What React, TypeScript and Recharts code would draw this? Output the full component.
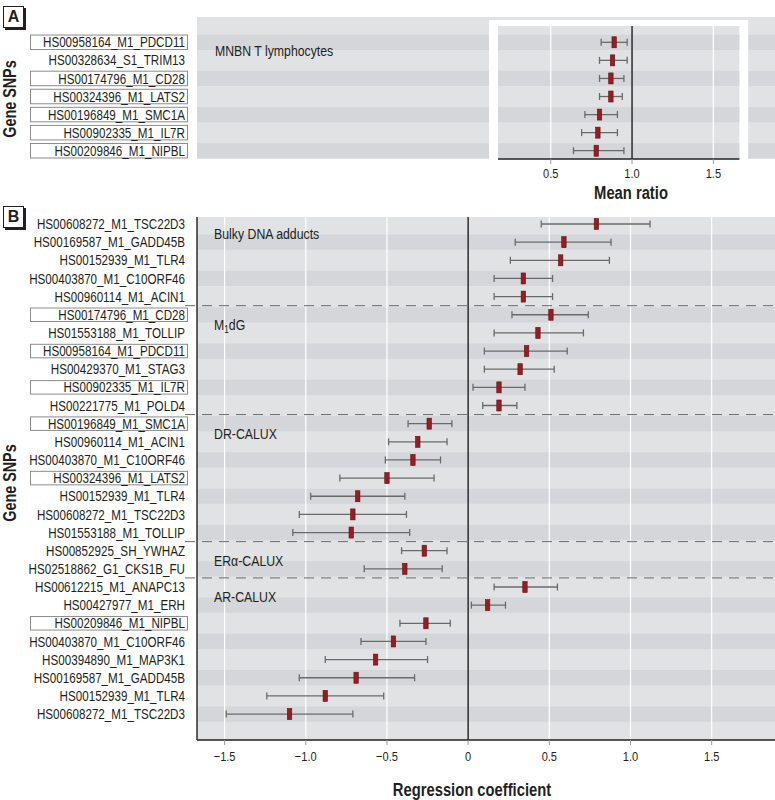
import React from 'react';
import {
  ScatterChart,
  Scatter,
  XAxis,
  YAxis,
  ErrorBar,
  ReferenceArea,
  ReferenceLine,
  ReferenceDot,
} from 'recharts';

const FONT = "'Liberation Sans', Arial, 'DejaVu Sans', sans-serif";
const SQ = 0.82; // horizontal condensing to mimic a narrow face
const INK = '#231f20';
const BG_LIGHT = '#e1e2e4';
const BG_DARK = '#d4d6d9';
const RED = '#981c24';

// ---------- Panel A data (mean ratio) ----------
const aLabels = [
  'HS00958164_M1_PDCD11',
  'HS00328634_S1_TRIM13',
  'HS00174796_M1_CD28',
  'HS00324396_M1_LATS2',
  'HS00196849_M1_SMC1A',
  'HS00902335_M1_IL7R',
  'HS00209846_M1_NIPBL',
];
const aMean = [0.89, 0.88, 0.87, 0.87, 0.80, 0.79, 0.78];
const aLow = [0.81, 0.80, 0.80, 0.80, 0.71, 0.69, 0.64];
const aHigh = [0.97, 0.97, 0.95, 0.94, 0.91, 0.91, 0.95];
const aBoxed = [1, 3, 4, 5, 6, 7];
const aTicks = [0.5, 1.0, 1.5];
const aGroup = 'MNBN T lymphocytes';

// ---------- Panel B data (regression coefficient) ----------
const bLabels = [
  'HS00608272_M1_TSC22D3',
  'HS00169587_M1_GADD45B',
  'HS00152939_M1_TLR4',
  'HS00403870_M1_C10ORF46',
  'HS00960114_M1_ACIN1',
  'HS00174796_M1_CD28',
  'HS01553188_M1_TOLLIP',
  'HS00958164_M1_PDCD11',
  'HS00429370_M1_STAG3',
  'HS00902335_M1_IL7R',
  'HS00221775_M1_POLD4',
  'HS00196849_M1_SMC1A',
  'HS00960114_M1_ACIN1',
  'HS00403870_M1_C10ORF46',
  'HS00324396_M1_LATS2',
  'HS00152939_M1_TLR4',
  'HS00608272_M1_TSC22D3',
  'HS01553188_M1_TOLLIP',
  'HS00852925_SH_YWHAZ',
  'HS02518862_G1_CKS1B_FU',
  'HS00612215_M1_ANAPC13',
  'HS00427977_M1_ERH',
  'HS00209846_M1_NIPBL',
  'HS00403870_M1_C10ORF46',
  'HS00394890_M1_MAP3K1',
  'HS00169587_M1_GADD45B',
  'HS00152939_M1_TLR4',
  'HS00608272_M1_TSC22D3',
];
const bMean = [
  0.79, 0.59, 0.57, 0.34, 0.34,
  0.51, 0.43, 0.36, 0.32, 0.19, 0.19,
  -0.24, -0.31, -0.34, -0.50, -0.68, -0.71, -0.72,
  -0.27, -0.39,
  0.35, 0.12, -0.26, -0.46, -0.57, -0.69, -0.88, -1.10,
];
const bLow = [
  0.45, 0.29, 0.26, 0.16, 0.16,
  0.27, 0.16, 0.10, 0.10, 0.03, 0.09,
  -0.37, -0.49, -0.51, -0.79, -0.97, -1.04, -1.08,
  -0.41, -0.64,
  0.16, 0.02, -0.42, -0.66, -0.88, -1.04, -1.24, -1.49,
];
const bHigh = [
  1.12, 0.88, 0.87, 0.52, 0.52,
  0.74, 0.71, 0.61, 0.53, 0.35, 0.30,
  -0.10, -0.13, -0.17, -0.21, -0.39, -0.38, -0.36,
  -0.13, -0.16,
  0.55, 0.23, -0.11, -0.26, -0.25, -0.33, -0.52, -0.71,
];
const bBoxed = [6, 8, 10, 12, 15, 23];
const bTicks = [-1.5, -1.0, -0.5, 0, 0.5, 1.0, 1.5];
const bGroups = ['Bulky DNA adducts', 'M1dG', 'DR-CALUX', 'ERα-CALUX', 'AR-CALUX'];
const bGroupStarts = [1, 6, 12, 19, 21];

// ---------- derived tables ----------
const aData = aMean.map((m, i) => ({ x: m, y: i + 1, err: [m - aLow[i], aHigh[i] - m] }));
const bData = bMean.map((m, i) => ({ x: m, y: i + 1, err: [m - bLow[i], bHigh[i] - m] }));
const aRows = aLabels.map((_, i) => i + 1);
const bRows = bLabels.map((_, i) => i + 1);

// layout constants (axis domains)
const A_X = [-1.675, 1.879];
const A_Y = [-0.4, 7.458];
const A_INNER_Y0 = 0.098;
const A_INNER_X = [0.176, 1.66];
const A_FRAME_X = [0.121, 1.714];
const A_FRAME_Y0 = -0.234;
const B_X = [-1.67, 1.89];
const B_Y = [0.614, 29.43];
const HALF_BAND = 0.42;

const fmtTick = (v: number) => (v === 0 ? '0' : (v < 0 ? '\u2212' : '') + Math.abs(v).toFixed(1));

// condensed svg text
function NText({ x, y, anchor = 'start', size = 14, weight = 'normal', children }: any) {
  return (
    <text
      transform={`translate(${x},${y}) scale(${SQ},1)`}
      x={0}
      y={0}
      dy="0.36em"
      textAnchor={anchor}
      fontSize={size}
      fontWeight={weight}
      fill={INK}
      fontFamily={FONT}
    >
      {children}
    </text>
  );
}

function makeRowTick(labels: string[], boxed: number[], boxH: number) {
  return (props: any) => {
    const { y, payload } = props;
    const i = payload.value as number;
    return (
      <g>
        {boxed.includes(i) && (
          <rect x={30.5} y={y - boxH / 2} width={157} height={boxH} fill="#fff" stroke="#8c8c8c" strokeWidth={1} />
        )}
        <NText x={185} y={y} anchor="end" size={14.2}>
          {labels[i - 1]}
        </NText>
      </g>
    );
  };
}

const XTick = (props: any) => {
  const { x, y, payload } = props;
  return (
    <NText x={x} y={y + 5} anchor="middle" size={13.5}>
      {fmtTick(payload.value)}
    </NText>
  );
};

const Marker = (p: any) => (
  <rect x={p.cx - 2.2} y={p.cy - 5.5} width={4.4} height={11} fill={RED} stroke="#5e1015" strokeWidth={0.6} />
);

function groupLabel(text: string) {
  return (props: any) => {
    const vb = props.viewBox || {};
    const x = (vb.x ?? 0) + (vb.width ?? 0);
    const y = (vb.y ?? 0) + (vb.height ?? 0) / 2;
    if (text === 'M1dG') {
      return (
        <NText x={x} y={y} size={15}>
          <tspan>M</tspan>
          <tspan dy={3} fontSize={10}>1</tspan>
          <tspan dy={-3}>dG</tspan>
        </NText>
      );
    }
    return (
      <NText x={x} y={y} size={15}>
        {text}
      </NText>
    );
  };
}

const dashedShape = (p: any) => (
  <line x1={p.x1 - 12} y1={p.y1} x2={p.x2} y2={p.y2} stroke="#6a6a6a" strokeWidth={1} strokeDasharray="10 7" />
);

const panelLetter = (letter: string, left: number, top: number) => (
  <div
    style={{
      position: 'absolute',
      left,
      top,
      width: 19,
      height: 20,
      border: `1px solid ${INK}`,
      boxShadow: `2px 2px 0 ${INK}`,
      background: '#fff',
      fontFamily: FONT,
      fontWeight: 'bold',
      fontSize: 16,
      color: INK,
      display: 'flex',
      alignItems: 'center',
      justifyContent: 'center',
      lineHeight: 1,
    }}
  >
    {letter}
  </div>
);

const rotatedTitle = (text: string, cx: number, cy: number) => (
  <div
    style={{
      position: 'absolute',
      left: cx,
      top: cy,
      transform: `translate(-50%, -50%) rotate(-90deg) scaleX(${SQ})`,
      fontFamily: FONT,
      fontWeight: 'bold',
      fontSize: 17.5,
      color: INK,
      whiteSpace: 'nowrap',
      lineHeight: 1,
    }}
  >
    {text}
  </div>
);

const hTitle = (text: string, cx: number, cy: number) => (
  <div
    style={{
      position: 'absolute',
      left: cx,
      top: cy,
      transform: `translate(-50%, -50%) scaleX(${SQ})`,
      fontFamily: FONT,
      fontWeight: 'bold',
      fontSize: 18,
      color: INK,
      whiteSpace: 'nowrap',
      lineHeight: 1,
    }}
  >
    {text}
  </div>
);

export default function App() {
  return (
    <div style={{ position: 'absolute', left: 0, top: 0, width: 775, height: 800, background: '#fff', fontFamily: FONT }}>
      {/* Panel A */}
      <div style={{ position: 'absolute', left: 0, top: 0 }}>
        <ScatterChart width={775} height={205} margin={{ top: 17, right: 0, left: 0, bottom: 0 }}>
          <XAxis
            type="number"
            dataKey="x"
            domain={A_X}
            allowDataOverflow
            ticks={aTicks}
            interval={0}
            axisLine={false}
            tickLine={{ stroke: '#9a9a9a' }}
            tickSize={5}
            tickMargin={4}
            height={46}
            tick={XTick}
          />
          <YAxis
            type="number"
            dataKey="y"
            reversed
            domain={A_Y}
            allowDataOverflow
            ticks={aRows}
            interval={0}
            width={197}
            axisLine={false}
            tickLine={false}
            tick={makeRowTick(aLabels, aBoxed, 14.5)}
          />
          {/* outer background + stripes */}
          <ReferenceArea x1={A_X[0]} x2={A_X[1]} y1={A_Y[0]} y2={A_Y[1]} fill={BG_LIGHT} fillOpacity={1} stroke="none" />
          {aRows.filter((r) => r % 2 === 1).map((r) => (
            <ReferenceArea key={'ao' + r} x1={A_X[0]} x2={A_X[1]} y1={r - HALF_BAND} y2={r + HALF_BAND} fill={BG_DARK} fillOpacity={1} stroke="none" />
          ))}
          {/* white frame and inner plot */}
          <ReferenceArea x1={A_FRAME_X[0]} x2={A_FRAME_X[1]} y1={A_FRAME_Y0} y2={A_Y[1]} fill="#fff" fillOpacity={1} stroke="none" />
          <ReferenceArea x1={A_INNER_X[0]} x2={A_INNER_X[1]} y1={A_INNER_Y0} y2={A_Y[1]} fill={BG_LIGHT} fillOpacity={1} stroke="none" />
          {aRows.filter((r) => r % 2 === 1).map((r) => (
            <ReferenceArea
              key={'ai' + r}
              x1={A_INNER_X[0]}
              x2={A_INNER_X[1]}
              y1={r - HALF_BAND}
              y2={Math.min(r + HALF_BAND, A_Y[1])}
              fill={BG_DARK}
              fillOpacity={1}
              stroke="none"
            />
          ))}
          {aTicks.filter((t) => t !== 1).map((t) => (
            <ReferenceLine key={'ag' + t} segment={[{ x: t, y: A_INNER_Y0 }, { x: t, y: A_Y[1] }]} stroke="#ffffff" strokeWidth={1.2} />
          ))}
          <ReferenceLine segment={[{ x: 1, y: A_INNER_Y0 }, { x: 1, y: A_Y[1] }]} stroke={INK} strokeWidth={1.4} />
          <ReferenceLine segment={[{ x: A_INNER_X[0], y: A_Y[1] }, { x: A_INNER_X[1], y: A_Y[1] }]} stroke={INK} strokeWidth={1.6} />
          <ReferenceDot x={-1.565} y={1.48} r={0} fill="none" stroke="none" label={groupLabel(aGroup)} />
          <Scatter data={aData} shape={Marker} isAnimationActive={false}>
            <ErrorBar dataKey="err" direction="x" width={3.5} stroke="#6a6a6a" strokeWidth={1.3} />
          </Scatter>
        </ScatterChart>
      </div>

      {/* Panel B */}
      <div style={{ position: 'absolute', left: 0, top: 200 }}>
        <ScatterChart width={775} height={600} margin={{ top: 17, right: 0, left: 0, bottom: 0 }}>
          <XAxis
            type="number"
            dataKey="x"
            domain={B_X}
            allowDataOverflow
            ticks={bTicks}
            interval={0}
            axisLine={{ stroke: INK, strokeWidth: 1.4 }}
            tickLine={{ stroke: '#9a9a9a' }}
            tickSize={5}
            tickMargin={6}
            height={60}
            tick={XTick}
          />
          <YAxis
            type="number"
            dataKey="y"
            reversed
            domain={B_Y}
            allowDataOverflow
            ticks={bRows}
            interval={0}
            width={197}
            axisLine={{ stroke: INK, strokeWidth: 1.4 }}
            tickLine={false}
            tick={makeRowTick(bLabels, bBoxed, 13.5)}
          />
          <ReferenceArea x1={B_X[0]} x2={B_X[1]} y1={B_Y[0]} y2={B_Y[1]} fill={BG_LIGHT} fillOpacity={1} stroke="none" />
          {bRows.filter((r) => r % 2 === 0).map((r) => (
            <ReferenceArea key={'bs' + r} x1={B_X[0]} x2={B_X[1]} y1={r - HALF_BAND} y2={r + HALF_BAND} fill={BG_DARK} fillOpacity={1} stroke="none" />
          ))}
          {bTicks.filter((t) => t !== 0).map((t) => (
            <ReferenceLine key={'bg' + t} x={t} stroke="#ffffff" strokeWidth={1.2} />
          ))}
          <ReferenceLine x={0} stroke={INK} strokeWidth={1.4} />
          {bGroupStarts.slice(1).map((s) => (
            <ReferenceLine key={'bd' + s} y={s - 0.5} shape={dashedShape} />
          ))}
          {bGroups.map((g, i) => (
            <ReferenceDot key={'bl' + g} x={-1.565} y={bGroupStarts[i] + 0.55} r={0} fill="none" stroke="none" label={groupLabel(g)} />
          ))}
          <Scatter data={bData} shape={Marker} isAnimationActive={false}>
            <ErrorBar dataKey="err" direction="x" width={3.5} stroke="#6a6a6a" strokeWidth={1.3} />
          </Scatter>
        </ScatterChart>
      </div>

      {panelLetter('A', 3, 6)}
      {panelLetter('B', 3, 206)}
      {rotatedTitle('Gene SNPs', 11, 99)}
      {rotatedTitle('Gene SNPs', 11, 483)}
      {hTitle('Mean ratio', 631, 193)}
      {hTitle('Regression coefficient', 472, 790)}
    </div>
  );
}
